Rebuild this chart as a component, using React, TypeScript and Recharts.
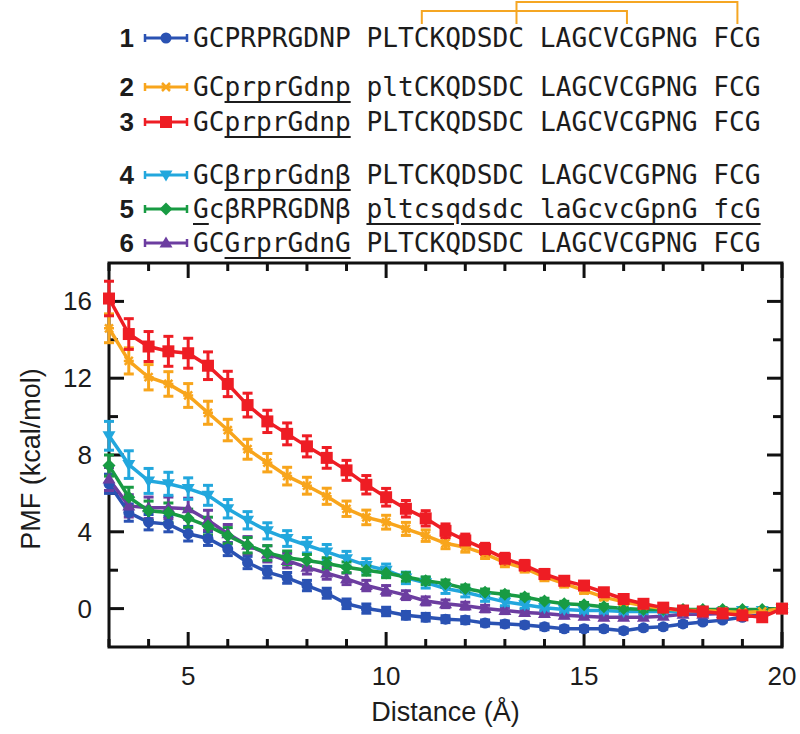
import { LineChart, Line, XAxis, YAxis, ErrorBar, ReferenceArea, ReferenceLine } from 'recharts'

// distance (Å), sampled every 0.5
const distance = [3, 3.5, 4, 4.5, 5, 5.5, 6, 6.5, 7, 7.5, 8, 8.5, 9, 9.5, 10, 10.5, 11, 11.5, 12, 12.5, 13, 13.5, 14, 14.5, 15, 15.5, 16, 16.5, 17, 17.5, 18, 18.5, 19, 19.5, 20]

// PMF (kcal/mol) per peptide
const pmf1 = [6.5, 5.0, 4.5, 4.4, 3.9, 3.65, 3.1, 2.4, 1.9, 1.6, 1.2, 0.8, 0.25, 0.0, -0.15, -0.35, -0.45, -0.55, -0.6, -0.75, -0.8, -0.85, -0.95, -1.05, -1.05, -1.05, -1.15, -1.0, -0.95, -0.8, -0.7, -0.6, -0.45, -0.3, 0]
const pmf2 = [14.6, 12.9, 12.05, 11.7, 11.1, 10.2, 9.3, 8.3, 7.6, 6.9, 6.4, 5.85, 5.2, 4.75, 4.5, 4.15, 3.8, 3.4, 3.2, 2.85, 2.4, 2.1, 1.65, 1.3, 0.95, 0.6, 0.35, 0.15, 0.0, -0.1, -0.1, -0.15, -0.2, -0.15, 0]
const pmf3 = [16.15, 14.3, 13.65, 13.4, 13.3, 12.65, 11.7, 10.6, 9.75, 9.1, 8.45, 7.85, 7.2, 6.45, 5.8, 5.2, 4.7, 4.05, 3.55, 3.1, 2.6, 2.25, 1.8, 1.45, 1.2, 0.85, 0.5, 0.25, 0.05, -0.1, -0.15, -0.25, -0.35, -0.45, 0]
const pmf4 = [9.0, 7.5, 6.65, 6.5, 6.25, 5.9, 5.2, 4.6, 4.05, 3.65, 3.3, 2.95, 2.6, 2.25, 2.0, 1.6, 1.35, 1.05, 0.85, 0.6, 0.35, 0.2, 0.05, -0.05, -0.1, -0.1, -0.15, -0.15, -0.15, -0.15, -0.15, -0.15, -0.1, -0.1, 0]
const pmf5 = [7.45, 5.8, 5.1, 5.0, 4.7, 4.3, 3.8, 3.3, 2.9, 2.65, 2.5, 2.35, 2.15, 2.0, 1.85, 1.65, 1.45, 1.3, 1.05, 0.85, 0.75, 0.6, 0.4, 0.25, 0.2, 0.1, 0.0, -0.05, -0.05, -0.05, -0.05, -0.05, -0.05, -0.05, 0]
const pmf6 = [6.75, 5.35, 5.25, 5.25, 5.2, 4.6, 3.9, 3.3, 2.85, 2.5, 2.15, 1.85, 1.55, 1.2, 0.95, 0.7, 0.4, 0.25, 0.15, 0.0, -0.1, -0.2, -0.25, -0.35, -0.4, -0.45, -0.45, -0.45, -0.4, -0.3, -0.3, -0.25, -0.2, -0.1, 0]

// error bars (kcal/mol)
const err1 = [0.5, 0.45, 0.4, 0.4, 0.38, 0.36, 0.34, 0.32, 0.3, 0.28, 0.27, 0.26, 0.25, 0.24, 0.22, 0.2, 0.2, 0.18, 0.18, 0.16, 0.16, 0.15, 0.15, 0.14, 0.14, 0.13, 0.13, 0.12, 0.12, 0.12, 0.1, 0.1, 0.1, 0.1, 0.05]
const err2 = [0.75, 0.68, 0.66, 0.64, 0.62, 0.6, 0.56, 0.52, 0.48, 0.46, 0.44, 0.42, 0.4, 0.38, 0.36, 0.34, 0.3, 0.28, 0.26, 0.24, 0.22, 0.2, 0.2, 0.18, 0.16, 0.15, 0.14, 0.13, 0.12, 0.12, 0.1, 0.1, 0.1, 0.1, 0.05]
const err3 = [0.9, 0.8, 0.78, 0.78, 0.78, 0.72, 0.66, 0.62, 0.58, 0.57, 0.55, 0.54, 0.52, 0.48, 0.46, 0.43, 0.4, 0.36, 0.33, 0.3, 0.28, 0.26, 0.24, 0.22, 0.2, 0.18, 0.16, 0.15, 0.14, 0.13, 0.12, 0.12, 0.11, 0.1, 0.05]
const err4 = [0.75, 0.72, 0.65, 0.6, 0.56, 0.52, 0.48, 0.45, 0.42, 0.41, 0.4, 0.39, 0.38, 0.35, 0.32, 0.3, 0.28, 0.26, 0.24, 0.22, 0.2, 0.18, 0.17, 0.16, 0.15, 0.14, 0.13, 0.12, 0.12, 0.11, 0.1, 0.1, 0.1, 0.1, 0.05]
const err5 = [0.55, 0.52, 0.5, 0.5, 0.48, 0.46, 0.42, 0.4, 0.38, 0.35, 0.32, 0.3, 0.28, 0.26, 0.24, 0.22, 0.2, 0.19, 0.18, 0.17, 0.16, 0.15, 0.14, 0.13, 0.12, 0.12, 0.11, 0.11, 0.1, 0.1, 0.1, 0.1, 0.1, 0.1, 0.05]
const err6 = [0.6, 0.58, 0.56, 0.56, 0.55, 0.52, 0.48, 0.45, 0.42, 0.38, 0.35, 0.32, 0.3, 0.27, 0.25, 0.23, 0.21, 0.2, 0.18, 0.17, 0.16, 0.15, 0.14, 0.13, 0.12, 0.12, 0.11, 0.11, 0.1, 0.1, 0.1, 0.1, 0.1, 0.1, 0.05]

const xTicks = [3, 4, 5, 6, 7, 8, 9, 10, 11, 12, 13, 14, 15, 16, 17, 18, 19, 20]
const yTicks = [0, 2, 4, 6, 8, 10, 12, 14, 16]

// legend sequences: [text, underlined]
const seqRows: [string, boolean][][] = [
  [['GCPRPRGDNP PLTCKQDSDC LAGCVCGPNG FCG', false]],
  [['GC', false], ['prprGdnp', true], [' pltCKQDSDC LAGCVCGPNG FCG', false]],
  [['GC', false], ['prprGdnp', true], [' PLTCKQDSDC LAGCVCGPNG FCG', false]],
  [['GC', false], ['βrprGdnβ', true], [' PLTCKQDSDC LAGCVCGPNG FCG', false]],
  [['G', true], ['cβRPRGDNβ ', false], ['pltcsqdsdc laGcvcGpnG fcG', true]],
  [['GC', false], ['GrprGdnG', true], [' PLTCKQDSDC LAGCVCGPNG FCG', false]],
]
// disulfide pairs (character index of cysteines in sequence 1)
const bonds: [number, number][] = [[20, 34], [14, 27]]

const data = distance.map((d, i) => ({
  d,
  p1: pmf1[i], e1: err1[i],
  p2: pmf2[i], e2: err2[i],
  p3: pmf3[i], e3: err3[i],
  p4: pmf4[i], e4: err4[i],
  p5: pmf5[i], e5: err5[i],
  p6: pmf6[i], e6: err6[i],
}))

type Shape = 'circle' | 'star' | 'square' | 'triDown' | 'diamond' | 'triUp'
const series: { key: string; err: string; color: string; shape: Shape; label: string }[] = [
  { key: 'p1', err: 'e1', color: '#2a52b3', shape: 'circle', label: '1' },
  { key: 'p2', err: 'e2', color: '#f8a51c', shape: 'star', label: '2' },
  { key: 'p3', err: 'e3', color: '#ee1d24', shape: 'square', label: '3' },
  { key: 'p4', err: 'e4', color: '#22a7dd', shape: 'triDown', label: '4' },
  { key: 'p5', err: 'e5', color: '#189b43', shape: 'diamond', label: '5' },
  { key: 'p6', err: 'e6', color: '#6c3da0', shape: 'triUp', label: '6' },
]
const drawOrder = ['p1', 'p6', 'p4', 'p5', 'p2', 'p3']

const X_MIN = 3, X_MAX = 20, Y_MIN = -2, Y_MAX = 18
const PL = 109, PR = 782, PT = 263, PB = 647
const INK = '#111'
const SANS = '"Liberation Sans", Arial, sans-serif'
const MONO = '"DejaVu Sans Mono", monospace'
const ROW_Y = [38, 87, 122, 175, 209, 243]
const SEQ_X = 193
const CH_W = 15.78
// tick lengths converted to data units
const PX_PER_X = (PR - PL) / (X_MAX - X_MIN)
const PX_PER_Y = (PB - PT) / (Y_MAX - Y_MIN)

function Marker({ shape, cx, cy, color }: { shape: Shape; cx: number; cy: number; color: string }) {
  if (cx == null || cy == null) return null
  switch (shape) {
    case 'circle':
      return <circle cx={cx} cy={cy} r={5.5} fill={color} />
    case 'square':
      return <rect x={cx - 6} y={cy - 6} width={12} height={12} fill={color} />
    case 'triDown':
      return <path d={`M${cx - 6.5},${cy - 4.5} L${cx + 6.5},${cy - 4.5} L${cx},${cy + 6.5} Z`} fill={color} />
    case 'triUp':
      return <path d={`M${cx - 6.5},${cy + 4.5} L${cx + 6.5},${cy + 4.5} L${cx},${cy - 6.5} Z`} fill={color} />
    case 'diamond':
      return <path d={`M${cx},${cy - 6.5} L${cx + 6.5},${cy} L${cx},${cy + 6.5} L${cx - 6.5},${cy} Z`} fill={color} />
    case 'star':
      return (
        <path
          d={`M${cx - 4},${cy - 4} L${cx + 4},${cy + 4} M${cx + 4},${cy - 4} L${cx - 4},${cy + 4} M${cx - 5},${cy} L${cx + 5},${cy}`}
          stroke={color}
          strokeWidth={2.5}
          fill="none"
        />
      )
  }
  return null
}

function XTick(props: any) {
  const { x, payload } = props
  const v = payload.value
  if (v % 5 !== 0) return <g />
  return (
    <text x={x} y={PB + 38} textAnchor="middle" fontSize={26} fontFamily={SANS} fill="#1c1c1c">
      {v}
    </text>
  )
}

function YTick(props: any) {
  const { y, payload } = props
  const v = payload.value
  if (v % 4 !== 0) return <g />
  return (
    <text x={PL - 17} y={y + 9} textAnchor="end" fontSize={26} fontFamily={SANS} fill="#1c1c1c">
      {v}
    </text>
  )
}

function LegendSample({ color, shape }: { color: string; shape: Shape }) {
  return (
    <svg width={46} height={16} style={{ position: 'absolute', left: 143, top: -8, overflow: 'visible' }}>
      <line x1={2} x2={44} y1={8} y2={8} stroke={color} strokeWidth={3} />
      <line x1={2} x2={2} y1={4} y2={12} stroke={color} strokeWidth={2.5} />
      <line x1={44} x2={44} y1={4} y2={12} stroke={color} strokeWidth={2.5} />
      <Marker shape={shape} cx={23} cy={8} color={color} />
    </svg>
  )
}

const Y_AXIS_W = 60
const X_AXIS_H = 50

export default function App() {
  const byKey = Object.fromEntries(series.map((s) => [s.key, s]))
  const tickSegs: { x1: number; y1: number; x2: number; y2: number }[] = []
  xTicks.forEach((v) => {
    const len = (v % 5 === 0 ? 15 : 8) / PX_PER_Y
    tickSegs.push({ x1: v, y1: Y_MIN, x2: v, y2: Y_MIN + len })
    tickSegs.push({ x1: v, y1: Y_MAX, x2: v, y2: Y_MAX - len })
  })
  yTicks.forEach((v) => {
    const len = (v % 4 === 0 ? 15 : 9) / PX_PER_X
    tickSegs.push({ x1: X_MIN, y1: v, x2: X_MIN + len, y2: v })
    tickSegs.push({ x1: X_MAX, y1: v, x2: X_MAX - len, y2: v })
  })
  return (
    <div style={{ position: 'absolute', left: 0, top: 0, width: 800, height: 734, background: '#fff', overflow: 'hidden' }}>
      {/* disulfide brackets */}
      <svg width={800} height={30} style={{ position: 'absolute', left: 0, top: 0 }}>
        {bonds.map(([a, b], i) => {
          const xa = SEQ_X + (a + 0.5) * CH_W
          const xb = SEQ_X + (b + 0.5) * CH_W
          const yTop = i === 0 ? 2 : 11
          return (
            <path key={i} d={`M${xa},24 L${xa},${yTop} L${xb},${yTop} L${xb},24`} stroke="#f5a623" strokeWidth={2} fill="none" />
          )
        })}
      </svg>

      {seqRows.map((row, i) => (
        <div key={i} style={{ position: 'absolute', left: 0, top: ROW_Y[i], height: 0 }}>
          <div
            style={{
              position: 'absolute', left: 110, width: 24, top: -16, lineHeight: '32px', textAlign: 'right',
              fontFamily: SANS, fontWeight: 700, fontSize: 26, color: '#1c1c1c',
            }}
          >
            {series[i].label}
          </div>
          <LegendSample color={series[i].color} shape={series[i].shape} />
          <div
            style={{
              position: 'absolute', left: SEQ_X, top: -16, lineHeight: '32px', whiteSpace: 'pre',
              fontFamily: MONO, fontSize: 26.2, color: '#1c1c1c',
            }}
          >
            {row.map(([t, u], j) => (
              <span
                key={j}
                style={u ? { textDecoration: 'underline', textDecorationThickness: '2px', textUnderlineOffset: '5px' } : undefined}
              >
                {t}
              </span>
            ))}
          </div>
        </div>
      ))}

      <div style={{ position: 'absolute', left: 0, top: 0 }}>
        <LineChart
          width={800}
          height={734}
          data={data}
          margin={{ top: PT, right: 800 - PR, bottom: 734 - PB - X_AXIS_H, left: PL - Y_AXIS_W }}
        >
          <XAxis
            type="number"
            dataKey="d"
            domain={[X_MIN, X_MAX]}
            ticks={xTicks}
            interval={0}
            height={X_AXIS_H}
            axisLine={false}
            tickLine={false}
            tick={XTick}
          />
          <YAxis
            type="number"
            domain={[Y_MIN, Y_MAX]}
            ticks={yTicks}
            interval={0}
            width={Y_AXIS_W}
            axisLine={false}
            tickLine={false}
            tick={YTick}
          />
          {tickSegs.map((t, i) => (
            <ReferenceLine
              key={`t${i}`}
              segment={[{ x: t.x1, y: t.y1 }, { x: t.x2, y: t.y2 }]}
              stroke={INK}
              strokeWidth={3}
              ifOverflow="visible"
            />
          ))}
          {drawOrder.map((k) => {
            const s = byKey[k]
            return (
              <Line
                key={k}
                dataKey={s.key}
                stroke={s.color}
                strokeWidth={3.5}
                isAnimationActive={false}
                dot={(p: any) => <Marker key={`${k}-${p.index}`} shape={s.shape} cx={p.cx} cy={p.cy} color={s.color} />}
                activeDot={false}
              >
                <ErrorBar dataKey={s.err} direction="y" width={5} stroke={s.color} strokeWidth={3} isAnimationActive={false} />
              </Line>
            )
          })}
          <ReferenceArea x1={X_MIN} x2={X_MAX} y1={Y_MIN} y2={Y_MAX} fill="none" stroke={INK} strokeWidth={3} ifOverflow="visible" />
        </LineChart>
      </div>

      <div
        style={{
          position: 'absolute', left: (PL + PR) / 2 - 150, width: 300, top: 696, lineHeight: '32px',
          textAlign: 'center', fontFamily: SANS, fontSize: 27, color: '#1c1c1c',
        }}
      >
        Distance (Å)
      </div>
      <div
        style={{
          position: 'absolute', left: 31 - 150, width: 300, top: (PT + PB) / 2 + 4 - 16, lineHeight: '32px',
          textAlign: 'center', fontFamily: SANS, fontSize: 27, color: '#1c1c1c', transform: 'rotate(-90deg)',
        }}
      >
        PMF (kcal/mol)
      </div>
    </div>
  )
}
